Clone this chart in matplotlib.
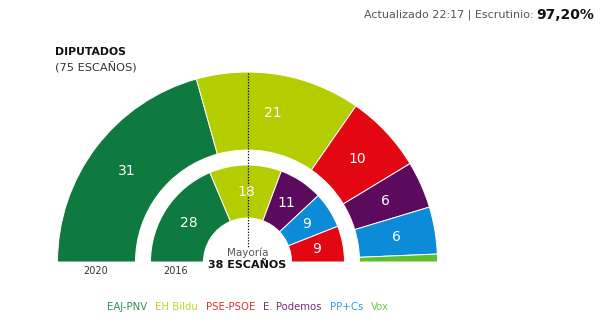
import numpy as np
import matplotlib
matplotlib.use("Agg")
import matplotlib.pyplot as plt
from matplotlib.patches import Wedge

# data
parties = ["EAJ-PNV", "EH Bildu", "PSE-PSOE", "E. Podemos", "PP+Cs", "Vox"]
colors = {"EAJ-PNV": "#0f7a3f", "EH Bildu": "#b4cd00", "PSE-PSOE": "#e30613",
          "E. Podemos": "#5c0a5e", "PP+Cs": "#0b8bd8", "Vox": "#5dbf2f"}
seats_2020 = [("EAJ-PNV", 31), ("EH Bildu", 21), ("PSE-PSOE", 10),
              ("E. Podemos", 6), ("PP+Cs", 6), ("Vox", 1)]
seats_2016 = [("EAJ-PNV", 28), ("EH Bildu", 18), ("E. Podemos", 11),
              ("PP+Cs", 9), ("PSE-PSOE", 9)]
total = 75
majority = 38

W, H = 600, 333
fig = plt.figure(figsize=(6, 3.33), dpi=100)
ax = fig.add_axes([0, 0, 1, 1])
ax.set_xlim(0, W)
ax.set_ylim(H, 0)
ax.axis("off")

cx, cy = 247.5, 262


def ring(seats, r_in, r_out):
    cum = 0
    for name, n in seats:
        # y axis is inverted, so angles run the other way round
        a0 = -(180 - cum * 180 / total)
        a1 = -(180 - (cum + n) * 180 / total)
        w = Wedge((cx, cy), r_out, a0, a1, width=r_out - r_in,
                  facecolor=colors[name], edgecolor="white", linewidth=0.7)
        ax.add_patch(w)
        if n > 1:
            mid = np.radians(180 - (cum + n / 2) * 180 / total)
            rm = (r_in + r_out) / 2
            ax.text(cx + rm * np.cos(mid), cy - rm * np.sin(mid), str(n),
                    color="white", fontsize=10, ha="center", va="center")
        cum += n


ring(seats_2020, 112, 190)
ring(seats_2016, 44, 97)

# majority line
ax.plot([cx, cx], [73, 247], color="black", linestyle=(0, (1, 1.3)), linewidth=0.9)
ax.text(cx, 253, "Mayoría", fontsize=7.5, color="#555555", ha="center", va="center")
ax.text(cx, 265, "%d ESCAÑOS" % majority, fontsize=8, fontweight="bold",
        color="#111111", ha="center", va="center")

ax.text(96, 271, "2020", fontsize=7, color="#333333", ha="center", va="center")
ax.text(176, 271, "2016", fontsize=7, color="#333333", ha="center", va="center")

# header
ax.text(55, 52, "DIPUTADOS", fontsize=7.8, fontweight="bold", color="#111111",
        va="center")
ax.text(55, 68, "(75 ESCAÑOS)", fontsize=8.2, color="#333333", va="center")

fig.canvas.draw()
r = fig.canvas.get_renderer()
inv = ax.transData.inverted()

pct = ax.text(594, 15, "97,20%", fontsize=10, fontweight="bold", color="#111111",
              ha="right", va="center")
x0 = inv.transform((pct.get_window_extent(r).x0, 0))[0]
ax.text(x0 - 3, 15, "Actualizado 22:17 | Escrutinio:", fontsize=8,
        color="#555555", ha="right", va="center")

# legend as colored words
x = 107
for p in parties:
    t = ax.text(x, 307, p, fontsize=7.3, color=colors[p], va="center", ha="left",
                alpha=0.85)
    x = inv.transform((t.get_window_extent(r).x1, 0))[0] + 8

fig.savefig("out.png", dpi=100)
